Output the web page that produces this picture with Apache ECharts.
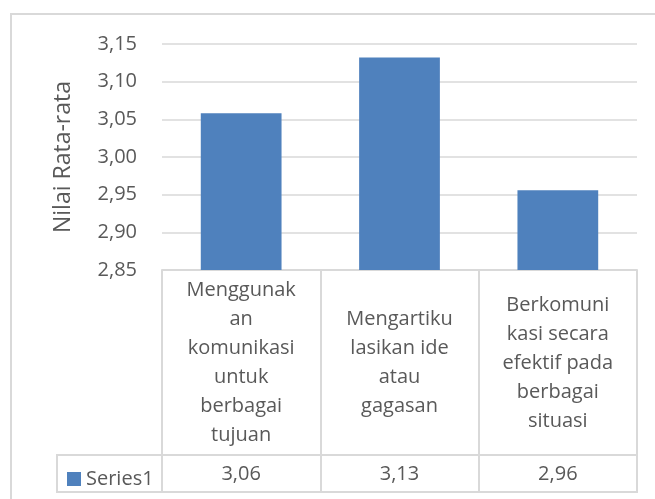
<!DOCTYPE html>
<html>
<head>
<meta charset="utf-8">
<script src="https://cdn.jsdelivr.net/npm/echarts@6/dist/echarts.min.js"></script>
<style>
html,body{margin:0;padding:0;background:#fff;}
#c{width:655px;height:499px;}
</style>
</head>
<body>
<div id="c"></div>
<script>
// ---- data ----
var categories = [
  'Menggunak\nan\nkomunikasi\nuntuk\nberbagai\ntujuan',
  'Mengartiku\nlasikan ide\natau\ngagasan',
  'Berkomuni\nkasi secara\nefektif pada\nberbagai\nsituasi'
];
var seriesName = 'Series1';
var values = [3.058, 3.132, 2.956];
var yMin = 2.85, yMax = 3.15, yStep = 0.05;
var yTitle = 'Nilai Rata-rata';

function fmt(v){ return v.toFixed(2).replace('.', ','); }
var tableLabels = values.map(fmt);

var FONT = 'Open Sans';
var TXT = '#595959';
var LINE = '#d9d9d9';

var chart = echarts.init(document.getElementById('c'), null, {renderer:'canvas'});
var option = {
  animation: false,
  backgroundColor: '#ffffff',
  textStyle: {fontFamily: FONT},
  grid: {left: 162, right: 18, top: 44, bottom: 229, outerBoundsMode: 'none', containLabel: false},
  legend: {
    data: [seriesName],
    left: 62, top: 464,
    itemWidth: 14, itemHeight: 14, itemGap: 5,
    icon: 'rect',
    textStyle: {fontFamily: FONT, fontSize: 20, color: TXT, padding: [0,0,0,0]}
  },
  xAxis: [{
    type: 'category',
    data: categories,
    axisLine: {show: true, lineStyle: {color: LINE, width: 2}},
    axisTick: {show: true, alignWithLabel: false, length: 222, interval: 0, lineStyle: {color: LINE, width: 2}},
    axisLabel: {
      interval: 0, margin: 93, verticalAlign: 'middle', align: 'center',
      fontFamily: FONT, fontSize: 20, color: TXT, lineHeight: 29
    },
    splitLine: {show: false}
  }, {
    type: 'category',
    data: tableLabels,
    position: 'bottom',
    axisLine: {show: false},
    axisTick: {show: false},
    axisLabel: {
      interval: 0, margin: 204, verticalAlign: 'middle', align: 'center',
      fontFamily: FONT, fontSize: 20, color: TXT
    }
  }],
  yAxis: {
    type: 'value',
    min: yMin, max: yMax, interval: yStep,
    name: yTitle,
    nameLocation: 'middle',
    nameGap: 87,
    nameRotate: 90,
    nameTextStyle: {fontFamily: FONT, fontSize: 23, color: TXT},
    axisLine: {show: false},
    axisTick: {show: false},
    axisLabel: {margin: 25, fontFamily: FONT, fontSize: 20, color: TXT, formatter: function(v){ return fmt(v); }},
    splitLine: {show: true, lineStyle: {color: LINE, width: 1.5}}
  },
  series: [{
    name: seriesName,
    type: 'bar',
    data: values,
    barWidth: '51%',
    itemStyle: {color: '#4f81bd'}
  }],
  graphic: [
    {type: 'rect', shape: {x: 11, y: 14, width: 800, height: 700}, style: {fill: null, stroke: LINE, lineWidth: 2}, silent: true},
    {type: 'rect', shape: {x: 57, y: 455, width: 580, height: 37}, style: {fill: null, stroke: LINE, lineWidth: 2}, silent: true}
  ]
};
chart.setOption(option);
</script>
</body>
</html>
